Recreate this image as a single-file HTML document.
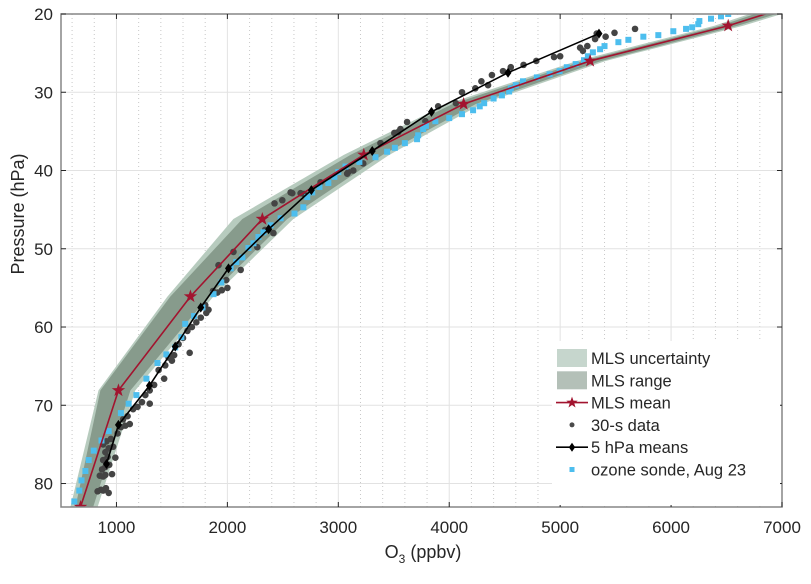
<!DOCTYPE html>
<html><head><meta charset="utf-8"><style>
body{margin:0;background:#fff;}
svg text{font-family:"Liberation Sans",Arial,sans-serif;fill:#262626;}
</style></head><body>
<svg id="chart" width="811" height="579" viewBox="0 0 811 579" xmlns="http://www.w3.org/2000/svg">
<defs><clipPath id="clip"><rect x="61" y="14" width="721" height="493"/></clipPath></defs>
<rect width="811" height="579" fill="#fff"/>
<g id="grid"></g>
<g id="plot" clip-path="url(#clip)"></g>
<g id="axes"></g>
<g id="legend"></g>
</svg>
<script>
// ---- data ----
const xTicks=[1000,2000,3000,4000,5000,6000,7000];
const yTicks=[20,30,40,50,60,70,80];
const mlsP=[83,68.1,56.1,46.2,38.0,31.5,26.0,21.5,18.7];
const mlsMean=[676,1018,1667,2315,3230,4130,5270,6515,7140];
const uncLo=[585,838,1460,2054,3050,3980,5150,6390,6980];
const uncHi=[830,1170,1874,2595,3460,4290,5410,6650,7300];
const rngLo=[630,855,1486,2135,3110,4030,5200,6440,7030];
const rngHi=[790,1126,1830,2540,3400,4240,5370,6600,7250];
const meanP=[22.5,27.5,32.5,37.5,42.5,47.5,52.5,57.5,62.5,67.5,72.5,77.5];
const meanV=[5350,4530,3840,3306,2757,2372,2010,1760,1530,1297,1018,910];
const sondeV=[620,665,685,720,750,795,865,930,1040,1110,1180,1270,1370,1450,1530,1585,1620,1700,1775,1875,1945,2030,2080,2135,2190,2235,2280,2325,2390,2480,2605,2685,2720,2765,2830,2910,2965,3000,3065,3190,3335,3440,3510,3600,3710,3720,3765,3790,3875,4000,4115,4215,4275,4315,4400,4475,4540,4555,4600,4665,4790,4905,4995,5060,5140,5215,5250,5295,5360,5400,5525,5615,5750,5885,6020,6135,6190,6245,6255,6360,6450,6515];
const sondeP=[82.3,80.9,79.6,78.4,77.0,75.8,74.5,73.3,71.0,69.8,68.7,66.6,64.6,63.5,62.6,61.3,59.6,58.6,57.5,55.8,54.3,52.5,51.7,51.1,49.9,49.3,48.5,47.9,47.0,46.1,45.5,44.7,43.4,42.8,42.1,41.6,40.8,40.2,39.5,38.9,38.3,37.6,37.1,36.5,36.0,35.5,34.7,34.3,33.7,33.3,32.8,32.3,31.8,31.4,30.8,30.4,29.9,29.5,29.1,28.6,28.1,27.7,27.3,26.8,26.4,25.9,25.4,24.9,24.5,24.1,23.6,23.3,22.9,22.7,22.2,21.9,21.7,21.3,20.9,20.6,20.3,20.0];
const dotV=[830,860,880,905,930,850,880,900,960,870,900,935,880,920,990,900,930,880,910,950,970,1010,1040,1080,1120,1060,1100,1150,1190,1230,1300,1260,1300,1340,1430,1380,1440,1500,1470,1520,1660,1560,1600,1640,1680,1720,1760,1810,1800,1830,1870,1910,1950,2000,1990,1920,2055,2120,2270,2340,2415,2425,2495,2585,2660,2840,3080,3135,3225,3380,3540,2570,2690,3090,3505,3560,3620,3785,3900,4060,4115,4235,4290,4350,4385,4485,4555,4670,4785,4945,5000,5180,5205,5245,5315,5330,5410,5490,5675];
const dotP=[81.0,80.8,80.9,80.6,81.2,79.0,79.1,78.9,78.8,78.2,77.9,77.6,77.0,76.6,76.7,76.0,75.5,75.0,74.6,74.3,75.3,73.6,72.8,72.6,72.4,71.8,71.4,70.5,70.2,69.6,69.8,68.7,68.1,67.4,66.6,65.5,64.9,64.3,63.9,63.6,63.3,62.2,61.4,60.5,60.0,59.4,58.8,58.2,57.2,57.8,55.4,55.6,55.3,55.0,54.0,52.1,50.4,52.7,49.8,47.6,48.0,44.2,43.8,42.9,42.9,41.5,40.4,40.0,39.1,36.5,35.1,42.8,43.0,40.2,35.2,34.7,33.8,33.7,31.8,31.4,30.0,29.5,28.6,29.1,27.8,27.3,26.8,26.5,26.0,25.5,25.4,24.3,24.7,24.1,23.2,22.5,22.9,22.4,21.9];
// ---- axes ----
const X0=61,X1=782,Y0=14,Y1=507,xmin=500,xmax=7000,ymin=20,ymax=83;
const sx=v=>X0+(v-xmin)/(xmax-xmin)*(X1-X0);
const sy=p=>Y0+(p-ymin)/(ymax-ymin)*(Y1-Y0);
const NS='http://www.w3.org/2000/svg';
function mk(tag,attrs,parent){const e=document.createElementNS(NS,tag);for(const k in attrs)e.setAttribute(k,attrs[k]);parent.appendChild(e);return e;}
const grid=document.getElementById('grid'),plot=document.getElementById('plot'),axes=document.getElementById('axes'),leg=document.getElementById('legend');
for(let v=600;v<7000;v+=200){if(v%1000===0)continue;const l=mk('line',{x1:sx(v),x2:sx(v),y1:Y0,y2:Y1,stroke:'#c8c8c8','stroke-width':1,'stroke-dasharray':'1,3'},grid);

}
xTicks.forEach(v=>{if(v>=xmax)return;const l=mk('line',{x1:sx(v),x2:sx(v),y1:Y0,y2:Y1,stroke:'#e2e2e2','stroke-width':1},grid);

});
yTicks.forEach(p=>{if(p<=ymin)return;const l=mk('line',{x1:X0,x2:X1,y1:sy(p),y2:sy(p),stroke:'#e2e2e2','stroke-width':1},grid);

});
function band(lo,hi,fill,name){let pts=[];mlsP.forEach((p,i)=>pts.push(sx(lo[i])+','+sy(p)));for(let i=mlsP.length-1;i>=0;i--)pts.push(sx(hi[i])+','+sy(mlsP[i]));
const e=mk('polygon',{points:pts.join(' '),fill:fill},plot);

}
band(uncLo,uncHi,'#b7cbbe','mls-uncertainty-band');
band(rngLo,rngHi,'#879b8c','mls-range-band');
dotV.forEach((v,i)=>{const c=mk('circle',{cx:sx(v),cy:sy(dotP[i]),r:3.3,fill:'#444'},plot);

});
sondeV.forEach((v,i)=>{const r=mk('rect',{x:sx(v)-3,y:sy(sondeP[i])-3,width:6,height:6,fill:'#4dbeee'},plot);

});
const ml=mk('polyline',{points:mlsMean.map((v,i)=>sx(v)+','+sy(mlsP[i])).join(' '),fill:'none',stroke:'#a2142f','stroke-width':1.6},plot);


function star(cx,cy,r,parent){let pts=[];for(let k=0;k<10;k++){const a=-Math.PI/2+k*Math.PI/5,rr=k%2?r*0.4:r;pts.push((cx+rr*Math.cos(a))+','+(cy+rr*Math.sin(a)));}return mk('polygon',{points:pts.join(' '),fill:'#a2142f'},parent);}
mlsMean.forEach((v,i)=>{const s=star(sx(v),sy(mlsP[i]),7,plot);

});
const bl=mk('polyline',{points:meanV.map((v,i)=>sx(v)+','+sy(meanP[i])).join(' '),fill:'none',stroke:'#000','stroke-width':1.6},plot);


function diamond(cx,cy,r,parent){return mk('polygon',{points:`${cx},${cy-r} ${cx+r*0.7},${cy} ${cx},${cy+r} ${cx-r*0.7},${cy}`,fill:'#000'},parent);}
meanV.forEach((v,i)=>{const d=diamond(sx(v),sy(meanP[i]),5,plot);

});
// frame and ticks
const fr=mk('rect',{x:X0,y:Y0,width:X1-X0,height:Y1-Y0,fill:'none',stroke:'#858585','stroke-width':1.5},axes);


xTicks.forEach(v=>{const x=sx(v);mk('line',{x1:x,x2:x,y1:Y1,y2:Y1-5,stroke:'#262626'},axes);mk('line',{x1:x,x2:x,y1:Y0,y2:Y0+5,stroke:'#262626'},axes);
const t=mk('text',{x:x,y:533,'text-anchor':'middle','font-size':17},axes);t.textContent=v;

});
yTicks.forEach(p=>{const y=sy(p);mk('line',{x1:X0,x2:X0+5,y1:y,y2:y,stroke:'#262626'},axes);mk('line',{x1:X1,x2:X1-5,y1:y,y2:y,stroke:'#262626'},axes);
const t=mk('text',{x:53,y:y+6,'text-anchor':'end','font-size':17},axes);t.textContent=p;

});
const xt=mk('text',{x:423,y:558,'text-anchor':'middle','font-size':18},axes);xt.innerHTML='O<tspan font-size="12" dy="5">3</tspan><tspan dy="-5"> (ppbv)</tspan>';


const yt=mk('text',{x:0,y:0,'text-anchor':'middle','font-size':18,transform:'translate(24,214) rotate(-90)'},axes);yt.textContent='Pressure (hPa)';


// legend
const lb=mk('rect',{x:552,y:341,width:228,height:164,fill:'#fff'},leg);


const labels=['MLS uncertainty','MLS range','MLS mean','30-s data','5 hPa means','ozone sonde, Aug 23'];
labels.forEach((s,i)=>{const y=358+i*22.3;const g=mk('g',{},leg);


if(i===0)mk('rect',{x:557,y:y-9,width:30,height:18,fill:'#c6d6cd'},g);
if(i===1)mk('rect',{x:557,y:y-9,width:30,height:18,fill:'#b4c0b8'},g);
if(i===2){mk('line',{x1:556,x2:588,y1:y,y2:y,stroke:'#a2142f','stroke-width':1.6},g);star(572,y,6,g);}
if(i===3)mk('circle',{cx:572,cy:y,r:2.5,fill:'#4a4a4a'},g);
if(i===4){mk('line',{x1:556,x2:588,y1:y,y2:y,stroke:'#000','stroke-width':1.6},g);diamond(572,y,4.5,g);}
if(i===5)mk('rect',{x:569.5,y:y-2.5,width:5,height:5,fill:'#4dbeee'},g);
const t=mk('text',{x:591,y:y+6,'font-size':16.5},g);t.textContent=s;});
</script>
</body></html>
